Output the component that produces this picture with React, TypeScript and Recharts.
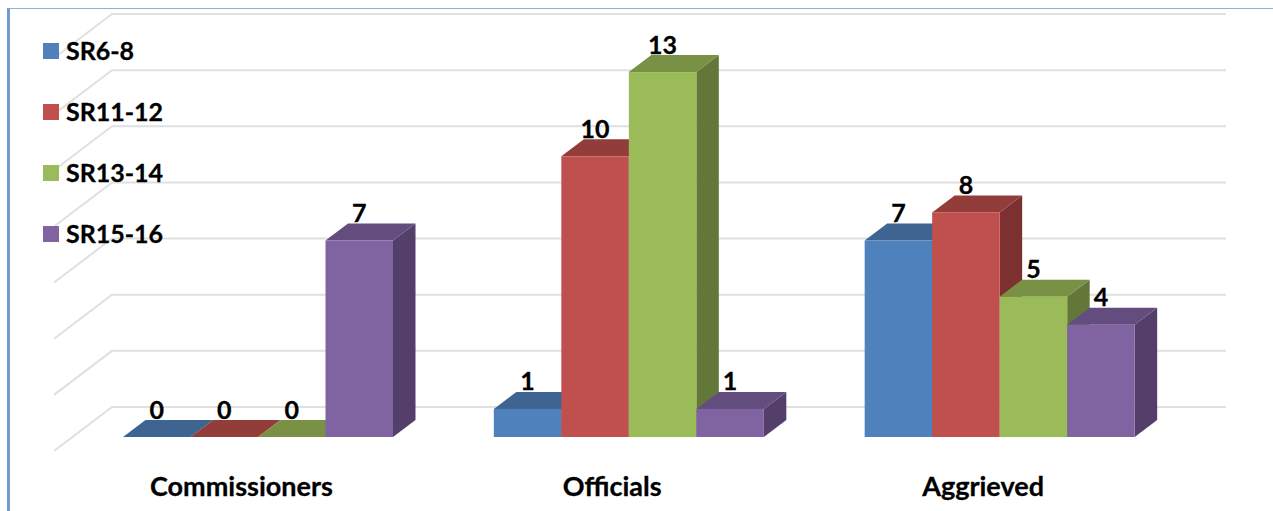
import React from "react";
import { BarChart, Bar, XAxis, YAxis, CartesianGrid, Legend, LabelList } from "recharts";

const groups = ["Commissioners", "Officials", "Aggrieved"];
const sr6to8 = [0, 1, 7];
const sr11to12 = [0, 10, 8];
const sr13to14 = [0, 13, 5];
const sr15to16 = [7, 1, 4];
const gridTicks = [0, 2, 4, 6, 8, 10, 12, 14];

const rows = groups.map((name, i) => ({
  name,
  "SR6-8": sr6to8[i],
  "SR11-12": sr11to12[i],
  "SR13-14": sr13to14[i],
  "SR15-16": sr15to16[i],
}));

const seriesStyles = [
  { key: "SR6-8", front: "#4F81BD", top: "#3E6591", side: "#345478" },
  { key: "SR11-12", front: "#C0504D", top: "#933D3B", side: "#7C3130" },
  { key: "SR13-14", front: "#9BBB59", top: "#789144", side: "#637838" },
  { key: "SR15-16", front: "#8064A2", top: "#634D7E", side: "#533F69" },
];

const FONT = "Lato, Carlito, sans-serif";
const DEPTH_X = 22.5;
const DEPTH_Y = 17;

// A box in cabinet projection: front face, lid and right-hand side.
function Box3D(props: any) {
  const { x, y, width, height, front, top, side } = props;
  const b = y + height;
  const r = x + width;
  const pts = (p: number[][]) => p.map((q) => q.join(",")).join(" ");
  return (
    <g>
      <polygon
        points={pts([[r, y], [r + DEPTH_X, y - DEPTH_Y], [r + DEPTH_X, b - DEPTH_Y], [r, b]])}
        fill={side}
      />
      <polygon
        points={pts([[x, y], [x + DEPTH_X, y - DEPTH_Y], [r + DEPTH_X, y - DEPTH_Y], [r, y]])}
        fill={top}
      />
      <rect x={x} y={y} width={width} height={height} fill={front} />
    </g>
  );
}

// Each grid line runs up the floor/side wall, then across the back wall.
function WallLine(props: any) {
  const { x1, x2, y1 } = props;
  const backY = y1 - 30;
  const backLeft = x1 + 39;
  return (
    <polyline
      points={`${x1 - 19},${y1 + 14} ${backLeft},${backY} ${x2 + 40.5},${backY}`}
      fill="none"
      stroke="#E0E0E0"
      strokeWidth={2}
    />
  );
}

function GroupTick(props: any) {
  const { x, y, payload } = props;
  return (
    <text
      x={x - 17}
      y={y + 20}
      textAnchor="middle"
      fontFamily={FONT}
      fontWeight={700}
      fontSize={27}
      fill="#000"
      stroke="#000"
      strokeWidth={0.3}
    >
      {payload.value}
    </text>
  );
}

function KeyList({ payload }: any) {
  return (
    <div style={{ fontFamily: FONT, fontWeight: 700, fontSize: 25, color: "#000", WebkitTextStroke: "0.3px #000" }}>
      {(payload || []).map((entry: any) => (
        <div key={entry.value} style={{ display: "flex", alignItems: "center", height: 61 }}>
          <span style={{ width: 16, height: 16, background: entry.color, marginRight: 7 }} />
          <span style={{ position: "relative", top: -1.5 }}>{entry.value}</span>
        </div>
      ))}
    </div>
  );
}

export default function App() {
  return (
    <div style={{ position: "relative", width: 1273, height: 511, background: "#fff", overflow: "hidden" }}>
      <style>{"html,body{margin:0;overflow:hidden}"}</style>
      <div
        style={{
          position: "absolute",
          left: 7,
          top: 8,
          width: 1266,
          height: 503,
          boxSizing: "border-box",
          borderLeft: "3px solid #6F9BD1",
          borderTop: "1px solid #8FB2DC",
        }}
      />
      <BarChart
        width={1273}
        height={511}
        data={rows}
        barCategoryGap={50}
        barGap={0}
        barSize={67.5}
        margin={{ top: 44, right: 87.5, bottom: 0, left: 73 }}
      >
        <CartesianGrid vertical={false} horizontal={<WallLine />} syncWithTicks />
        <XAxis
          dataKey="name"
          axisLine={false}
          tickLine={false}
          height={74}
          tick={<GroupTick />}
          tickMargin={33}
          interval={0}
        />
        <YAxis hide domain={[0, 14]} ticks={gridTicks} />
        <Legend
          layout="vertical"
          align="center"
          verticalAlign="middle"
          itemSorter={null}
          wrapperStyle={{ left: 43, top: 20.5, width: 180 }}
          content={<KeyList />}
        />
        {seriesStyles.map((s) => (
          <Bar
            key={s.key}
            dataKey={s.key}
            fill={s.front}
            isAnimationActive={false}
            shape={<Box3D front={s.front} top={s.top} side={s.side} />}
          >
            <LabelList
              dataKey={s.key}
              position="top"
              offset={18.5}
              fontFamily={FONT}
              fontWeight={700}
              fontSize={25}
              fill="#000"
              stroke="#000"
              strokeWidth={0.3}
            />
          </Bar>
        ))}
      </BarChart>
    </div>
  );
}
